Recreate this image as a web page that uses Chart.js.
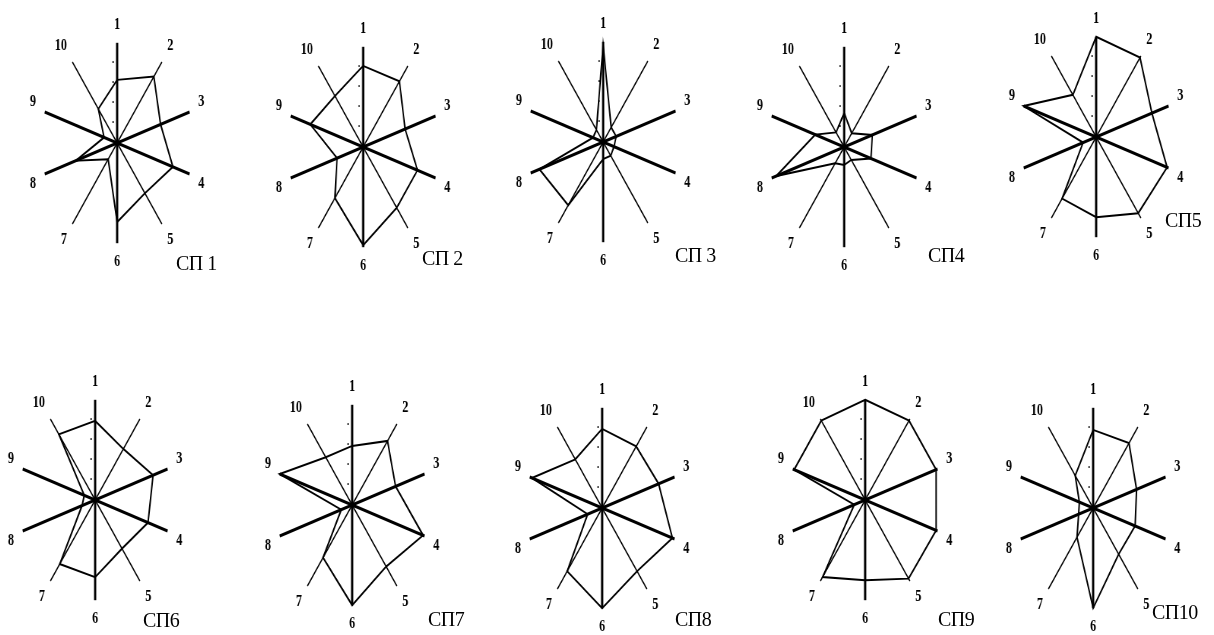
<!DOCTYPE html>
<html>
<head>
<meta charset="utf-8">
<script src="https://cdn.jsdelivr.net/npm/chart.js@4"></script>
<style>
  html, body { margin: 0; padding: 0; background: #fff; }
  body { width: 1214px; height: 635px; position: relative; overflow: hidden; }
  .star { position: absolute; transform: scaleX(0.76); transform-origin: 50% 50%; }
  .cap { position: absolute; font-family: "Liberation Serif", serif; font-size: 20px; line-height: 1; color: #000; letter-spacing: -0.5px; white-space: nowrap; }
</style>
</head>
<body>
<script>
// axis names, clockwise from the top
const axisLabels = ["1", "2", "3", "4", "5", "6", "7", "8", "9", "10"];

// profile values on a 0..10 scale, one array per plot
const sp1  = [6.3, 8.2, 6.0, 7.7, 6.2, 7.9, 2.0, 5.7, 1.8, 4.2];
const sp2  = [8.1, 8.1, 5.8, 7.5, 7.5, 9.8, 6.3, 3.6, 7.3, 6.3];
const sp3  = [9.7, 1.8, 1.8, 1.5, 1.7, 1.7, 7.8, 8.8, 1.4, 1.5];
const sp4  = [3.4, 1.7, 3.9, 3.7, 1.6, 1.8, 2.0, 9.4, 4.0, 1.8];
const sp5  = [10, 9.8, 7.7, 9.8, 9.4, 8.0, 7.6, 1.8, 10, 5.2];
const sp6  = [7.9, 6.3, 8.0, 7.3, 6.0, 7.7, 7.9, 1.8, 1.5, 8.1];
const sp7  = [5.9, 7.9, 6.0, 9.8, 7.6, 10, 6.5, 1.5, 10, 5.9];
const sp8  = [7.9, 7.6, 7.8, 9.7, 7.8, 10, 7.8, 2.0, 9.7, 6.0];
const sp9  = [10, 9.8, 9.8, 9.8, 9.7, 8.0, 9.5, 1.5, 9.8, 9.8];
const sp10 = [7.8, 8.0, 6.0, 5.8, 5.7, 10, 3.6, 2.0, 1.9, 4.0];

const titles = ["СП 1", "СП 2", "СП 3", "СП4", "СП5", "СП6", "СП7", "СП8", "СП9", "СП10"];
const series = [sp1, sp2, sp3, sp4, sp5, sp6, sp7, sp8, sp9, sp10];

// page layout: plot centres and caption corners
const centres = [[117, 143], [363, 147], [603, 142], [844, 147], [1096, 137],
                 [95, 500], [352, 505], [602, 508], [865, 500], [1093, 508]];
const capPos = [[176, 253], [422, 248], [675, 245], [928, 245], [1165, 210],
                [143, 610], [428, 609], [675, 609], [938, 609], [1152, 602]];

const heavyAxes = [0, 2, 3, 5, 7, 8];
const SIZE = 251;

series.forEach((values, k) => {
    const box = document.createElement("div");
    box.className = "star";
    box.style.width = SIZE + "px";
    box.style.height = SIZE + "px";
    box.style.left = (centres[k][0] - SIZE / 2) + "px";
    box.style.top = (centres[k][1] - SIZE / 2) + "px";
    const canvas = document.createElement("canvas");
    canvas.width = SIZE;
    canvas.height = SIZE;
    box.appendChild(canvas);
    document.body.appendChild(box);

    new Chart(canvas.getContext("2d"), {
        type: "radar",
        data: {
            labels: axisLabels,
            datasets: [{
                data: values,
                borderColor: "#000",
                borderWidth: 2,
                backgroundColor: "transparent",
                fill: false,
                pointRadius: 0,
                tension: 0
            }]
        },
        options: {
            responsive: false,
            animation: false,
            plugins: { legend: { display: false }, tooltip: { enabled: false } },
            scales: {
                r: {
                    min: 0,
                    max: 10,
                    grid: { display: false },
                    angleLines: {
                        display: true,
                        color: "#000",
                        lineWidth: ctx => heavyAxes.includes(ctx.index) ? 3 : 1.5
                    },
                    ticks: {
                        stepSize: 2,
                        showLabelBackdrop: false,
                        color: "#000",
                        font: { size: 12, weight: "bold" },
                        callback: v => (v > 0 && v < 10 ? "·   " : "")
                    },
                    pointLabels: {
                        color: "#000",
                        padding: 4,
                        font: { family: "Liberation Serif", size: 16, weight: "bold", lineHeight: 0.8 }
                    }
                }
            }
        }
    });

    const cap = document.createElement("div");
    cap.className = "cap";
    cap.textContent = titles[k];
    cap.style.left = capPos[k][0] + "px";
    cap.style.top = capPos[k][1] + "px";
    document.body.appendChild(cap);
});
</script>
</body>
</html>
